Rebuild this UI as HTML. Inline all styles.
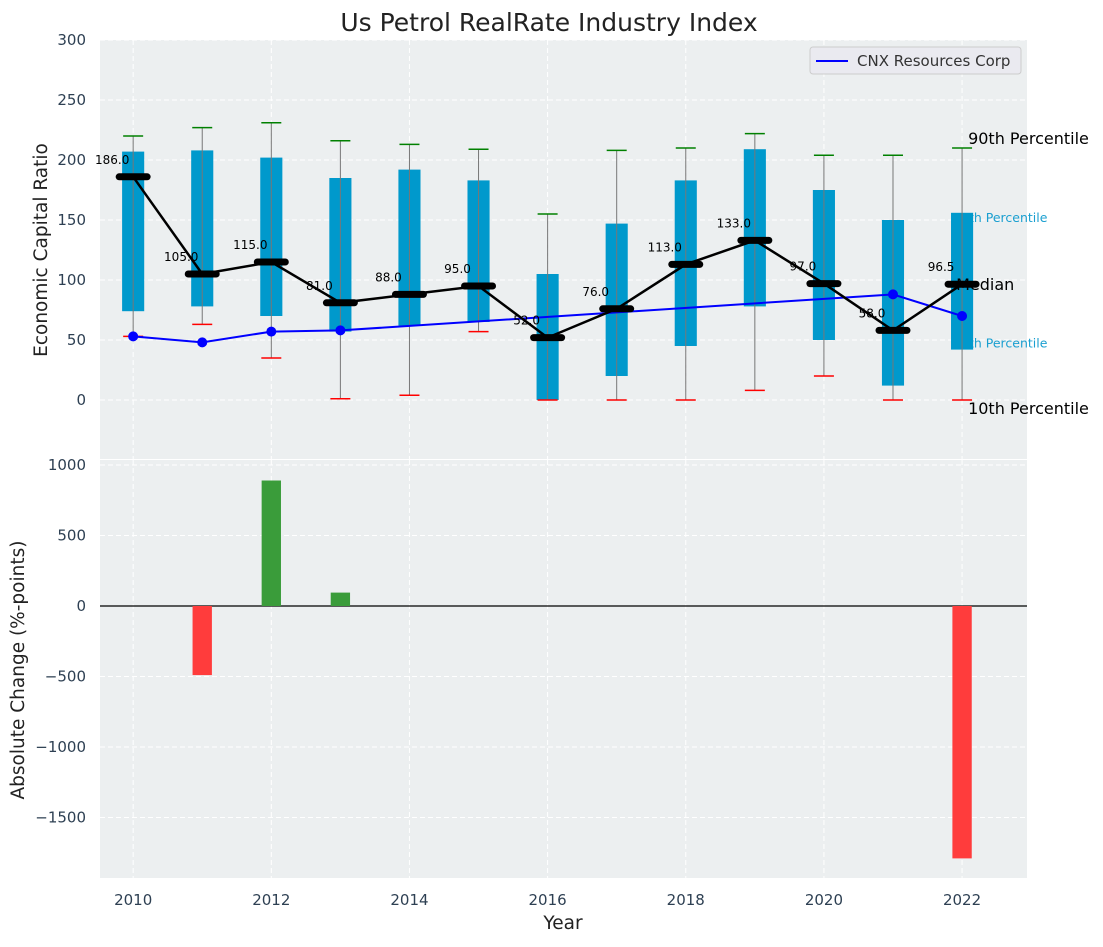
<!DOCTYPE html>
<html><head><meta charset="utf-8"><style>
body{margin:0;background:#fff;}
svg text{font-family:"DejaVu Sans","Liberation Sans",sans-serif;}
</style></head><body>
<svg id="chart" width="1103" height="942" xmlns="http://www.w3.org/2000/svg"></svg>
<script>
const years=[2010,2011,2012,2013,2014,2015,2016,2017,2018,2019,2020,2021,2022];
const p90=[220,227,231,216,213,209,155,208,210,222,204,204,210];
const p75=[207,208,202,185,192,183,105,147,183,209,175,150,156];
const p25=[74,78,70,57,62,65,0,20,45,78,50,12,42];
const p10=[53,63,35,1,4,57,0,0,0,8,20,0,0];
const medians=[186,105,115,81,88,95,52,76,113,133,97,58,96.5];
const medianLabels=["186.0","105.0","115.0","81.0","88.0","95.0","52.0","76.0","113.0","133.0","97.0","58.0","96.5"];
const cnxYears=[2010,2011,2012,2013,2021,2022];
const cnxValues=[53,48,57,58,88,70];
const changeYears=[2011,2012,2013,2022];
const changeValues=[-490,890,95,-1790];
const topTicks=[0,50,100,150,200,250,300];
const botTicks=[-1500,-1000,-500,0,500,1000];
const xTicks=[2010,2012,2014,2016,2018,2020,2022];

const svg=document.getElementById('chart');
const NS='http://www.w3.org/2000/svg';
function el(tag,attrs,parent){const e=document.createElementNS(NS,tag);for(const k in attrs)e.setAttribute(k,attrs[k]);(parent||svg).appendChild(e);return e;}
const L=100,R=1027;
const x=v=>L+(v-2009.52)*(R-L)/(2022.94-2009.52);
const yT=v=>400-v*1.2;
const yB=v=>606-v*0.141;
const pxPerYr=(R-L)/(2022.94-2009.52);

let bg=el('rect',{x:L,y:40,width:R-L,height:419,fill:'#eceff0'});

let bg2=el('rect',{x:L,y:460,width:R-L,height:418,fill:'#eceff0'});


topTicks.forEach(t=>{el('line',{x1:L,x2:R,y1:yT(t),y2:yT(t),stroke:'#fff','stroke-dasharray':'5,3','stroke-width':1});
 const tx=el('text',{x:L-14,y:yT(t)+5,'text-anchor':'end','font-size':15,fill:'#2e4053'});tx.textContent=t;
 });
botTicks.forEach(t=>{el('line',{x1:L,x2:R,y1:yB(t),y2:yB(t),stroke:'#fff','stroke-dasharray':'5,3','stroke-width':1});
 const tx=el('text',{x:L-14,y:yB(t)+5,'text-anchor':'end','font-size':15,fill:'#2e4053'});tx.textContent=t===0?'0':(t<0?'−'+(-t):t);
 });
xTicks.forEach(t=>{el('line',{x1:x(t),x2:x(t),y1:40,y2:459,stroke:'#fff','stroke-dasharray':'5,3'});
 el('line',{x1:x(t),x2:x(t),y1:460,y2:878,stroke:'#fff','stroke-dasharray':'5,3'});
 const tx=el('text',{x:x(t),y:905,'text-anchor':'middle','font-size':15,fill:'#2e4053'});tx.textContent=t;
 });

const last=years.length-1, xl=x(years[last]);
function ann(txt,yy,color,size,dx,name){const t=el('text',{x:xl+dx,y:yy,'font-size':size,fill:color});t.textContent=txt;
 }
ann('90th Percentile',yT(p90[last])-4,'#000',16,6,'p90-annotation');
ann('75th Percentile',yT(p75[last])+9,'#1a9fd0',12.5,-9,'p75-annotation');
ann('25th Percentile',yT(p25[last])-2,'#1a9fd0',12.5,-9,'p25-annotation');
ann('10th Percentile',yT(p10[last])+14,'#000',16,6,'p10-annotation');

years.forEach((yr,i)=>{
 const b=el('rect',{x:x(yr)-0.16*pxPerYr,y:yT(p75[i]),width:0.32*pxPerYr,height:yT(p25[i])-yT(p75[i]),fill:'#0099cc'});
 
 const w=el('line',{x1:x(yr),x2:x(yr),y1:yT(p10[i]),y2:yT(p90[i]),stroke:'#777','stroke-width':1});
 
 el('line',{x1:x(yr)-10,x2:x(yr)+10,y1:yT(p90[i]),y2:yT(p90[i]),stroke:'green','stroke-width':1.5});
 el('line',{x1:x(yr)-10,x2:x(yr)+10,y1:yT(p10[i]),y2:yT(p10[i]),stroke:'red','stroke-width':1.5});
});
ann('Median',yT(medians[last])+6,'#000',16,-6,'median-annotation');

const cl=el('polyline',{points:cnxYears.map((yr,i)=>x(yr)+','+yT(cnxValues[i])).join(' '),fill:'none',stroke:'blue','stroke-width':2});

cnxYears.forEach((yr,i)=>{const c=el('circle',{cx:x(yr),cy:yT(cnxValues[i]),r:5,fill:'blue'});
 });

const ml=el('polyline',{points:years.map((yr,i)=>x(yr)+','+yT(medians[i])).join(' '),fill:'none',stroke:'#000','stroke-width':2.5});

years.forEach((yr,i)=>{
 const m=el('line',{x1:x(yr)-14,x2:x(yr)+14,y1:yT(medians[i]),y2:yT(medians[i]),stroke:'#000','stroke-width':7,'stroke-linecap':'round'});
 
 const t=el('text',{x:x(yr)-21,y:yT(medians[i])-13,'text-anchor':'middle','font-size':12,fill:'#000'});t.textContent=medianLabels[i];
 
});

const lg=el('g',{});
el('rect',{x:810,y:47,width:211,height:27,rx:3,fill:'#eaeaf0',stroke:'#ccc'},lg);
el('line',{x1:816,x2:848,y1:61,y2:61,stroke:'blue','stroke-width':2},lg);
const lt=el('text',{x:857,y:66,'font-size':15,fill:'#333'},lg);lt.textContent='CNX Resources Corp';

el('line',{x1:L,x2:R,y1:yB(0),y2:yB(0),stroke:'#000','stroke-width':1.2});
changeYears.forEach((yr,i)=>{const v=changeValues[i];
 const b=el('rect',{x:x(yr)-0.14*pxPerYr,y:Math.min(yB(v),yB(0)),width:0.28*pxPerYr,height:Math.abs(yB(v)-yB(0)),fill:v>=0?'#3a9c3a':'#ff3c3c'});
 });

function txt(s,a,name){const t=el('text',a);t.textContent=s;return t;}
txt('Us Petrol RealRate Industry Index',{x:549,y:31,'text-anchor':'middle','font-size':25,fill:'#222'},'chart-title');
txt('Economic Capital Ratio',{x:47,y:250,'text-anchor':'middle','font-size':18.5,fill:'#222',transform:'rotate(-90 47 250)'},'y-axis-title-top');
txt('Absolute Change (%-points)',{x:24,y:670,'text-anchor':'middle','font-size':18.5,fill:'#222',transform:'rotate(-90 24 670)'},'y-axis-title-bottom');
txt('Year',{x:563,y:929,'text-anchor':'middle','font-size':18.5,fill:'#222'},'x-axis-title');
</script>
</body></html>
